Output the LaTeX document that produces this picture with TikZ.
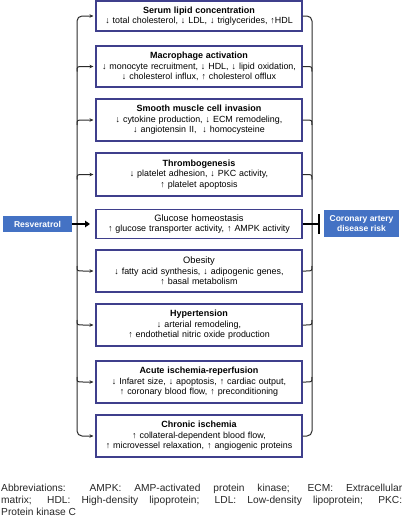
\documentclass[tikz,border=0pt]{standalone}
\usepackage{fontspec}
\setmainfont{Liberation Sans}
\usetikzlibrary{calc,arrows.meta}
\definecolor{boxline}{HTML}{3F3F8C}
\definecolor{bluefill}{HTML}{4472C4}
\definecolor{connc}{HTML}{2B2B2B}
\begin{document}
\begin{tikzpicture}[x=1pt,y=-1pt,
  box/.style={draw=boxline, line width=1.1pt, fill=white, minimum width=206pt,
    text width=204pt, align=center, inner sep=0pt,
    font=\fontsize{8.9}{10.5}\selectfont},
  conn/.style={draw=connc, line width=1pt},
  arr/.style={conn, -{Stealth[length=4pt,width=3.5pt]}, shorten >=2pt},
  bluebox/.style={fill=bluefill, text=white, inner sep=0pt,
    font=\bfseries\fontsize{8.5}{10.5}\selectfont, align=center},
  ]
\useasboundingbox (0,0) rectangle (403,525);

\node[box, minimum height=30pt] (b1) at (199,16)
  {{\bfseries\fontsize{9}{10.5}\selectfont Serum lipid concentration}\\
   ↓ total cholesterol, ↓ LDL, ↓ triglycerides, ↑HDL};
\node[box, minimum height=41pt] (b2) at (199,66.5)
  {{\bfseries\fontsize{9}{10.5}\selectfont Macrophage activation}\\
   ↓ monocyte recruitment, ↓ HDL, ↓ lipid oxidation,\\
   ↓ cholesterol influx, ↑ cholesterol offlux};
\node[box, minimum height=42pt] (b3) at (199,120)
  {{\bfseries\fontsize{9}{10.5}\selectfont Smooth muscle cell invasion}\\
   ↓ cytokine production, ↓ ECM remodeling,\\
   ↓ angiotensin II,\ \ ↓ homocysteine};
\node[box, minimum height=43pt] (b4) at (199,174.5)
  {{\bfseries\fontsize{9}{10.5}\selectfont Thrombogenesis}\\
   ↓ platelet adhesion, ↓ PKC activity,\\
   ↑ platelet apoptosis};
\node[box, minimum height=29pt] (b5) at (199,224)
  {{\fontsize{9.3}{10.5}\selectfont Glucose homeostasis}\\
   ↑ glucose transporter activity, ↑ AMPK activity};
\node[box, minimum height=42pt] (b6) at (199,271)
  {{\fontsize{9.3}{10.5}\selectfont Obesity}\\
   ↓ fatty acid synthesis, ↓ adipogenic genes,\\
   ↑ basal metabolism};
\node[box, minimum height=42pt] (b7) at (199,325)
  {{\bfseries\fontsize{9}{10.5}\selectfont Hypertension}\\
   ↓ arterial remodeling,\\
   ↑ endothetial nitric oxide production};
\node[box, minimum height=42pt] (b8) at (199,382)
  {{\bfseries\fontsize{9}{10.5}\selectfont Acute ischemia-reperfusion}\\
   ↓ Infaret size, ↓ apoptosis, ↑ cardiac output,\\
   ↑ coronary blood flow, ↑ preconditioning};
\node[box, minimum height=42pt] (b9) at (199,436)
  {{\bfseries\fontsize{9}{10.5}\selectfont Chronic ischemia}\\
   ↑ collateral-dependent blood flow,\\
   ↑ microvessel relaxation, ↑ angiogenic proteins};

\node[bluebox, minimum width=69pt, minimum height=16pt] (res) at (37.5,224) {Resveratrol};
\node[bluebox, minimum width=75pt, minimum height=27pt] (cad) at (361.5,223.5)
  {Coronary artery\\disease risk};

\coordinate (lx) at (77,0);
\coordinate (rx) at (312,0);
\coordinate (resend) at (90,224);
\coordinate (tbar) at (320,224);

% left spine
\draw[arr, rounded corners=5pt] (lx |- b5.west) -- (lx |- b1.west) -- (b1.west);
\draw[arr, rounded corners=5pt] (lx |- b5.west) -- (lx |- b9.west) -- (b9.west);
\foreach \b in {b2,b3,b4}{
  \draw[arr] ($(lx |- \b.west)+(0,5)$) .. controls (lx |- \b.west) .. ($(lx |- \b.west)+(6,0)$) -- (\b.west);
}
\foreach \b in {b6,b7,b8}{
  \draw[arr] ($(lx |- \b.west)+(0,-5)$) .. controls (lx |- \b.west) .. ($(lx |- \b.west)+(6,0)$) -- (\b.west);
}

% right spine
\draw[conn, rounded corners=5pt] (b1.east) -| (rx |- b5.east) |- (b9.east);
\foreach \b in {b2,b3,b4}{
  \draw[conn] (\b.east) -- ($(rx |- \b.east)+(-6,0)$) .. controls (rx |- \b.east) .. ($(rx |- \b.east)+(0,5)$);
}
\foreach \b in {b6,b7,b8}{
  \draw[conn] (\b.east) -- ($(rx |- \b.east)+(-6,0)$) .. controls (rx |- \b.east) .. ($(rx |- \b.east)+(0,-5)$);
}

% thick connectors
\draw[line width=2.2pt, draw=black, -{Triangle[length=5pt,width=6.5pt]}] (res) -- (resend);
\draw[line width=2.2pt, draw=black, -{Bar[width=20pt]}] (b5.east) -- (tbar);

\node[anchor=north west, text width=401pt, align=justify, inner sep=0pt,
  font=\fontsize{10.2}{12}\selectfont, text=black!85] (abbr) at (1,483.5)
  {Abbreviations: AMPK: AMP-activated protein kinase; ECM: Extracellular\linebreak
   matrix; HDL: High-density lipoprotein; LDL: Low-density lipoprotein; PKC:\linebreak
   Protein kinase C};
\end{tikzpicture}
\end{document}
